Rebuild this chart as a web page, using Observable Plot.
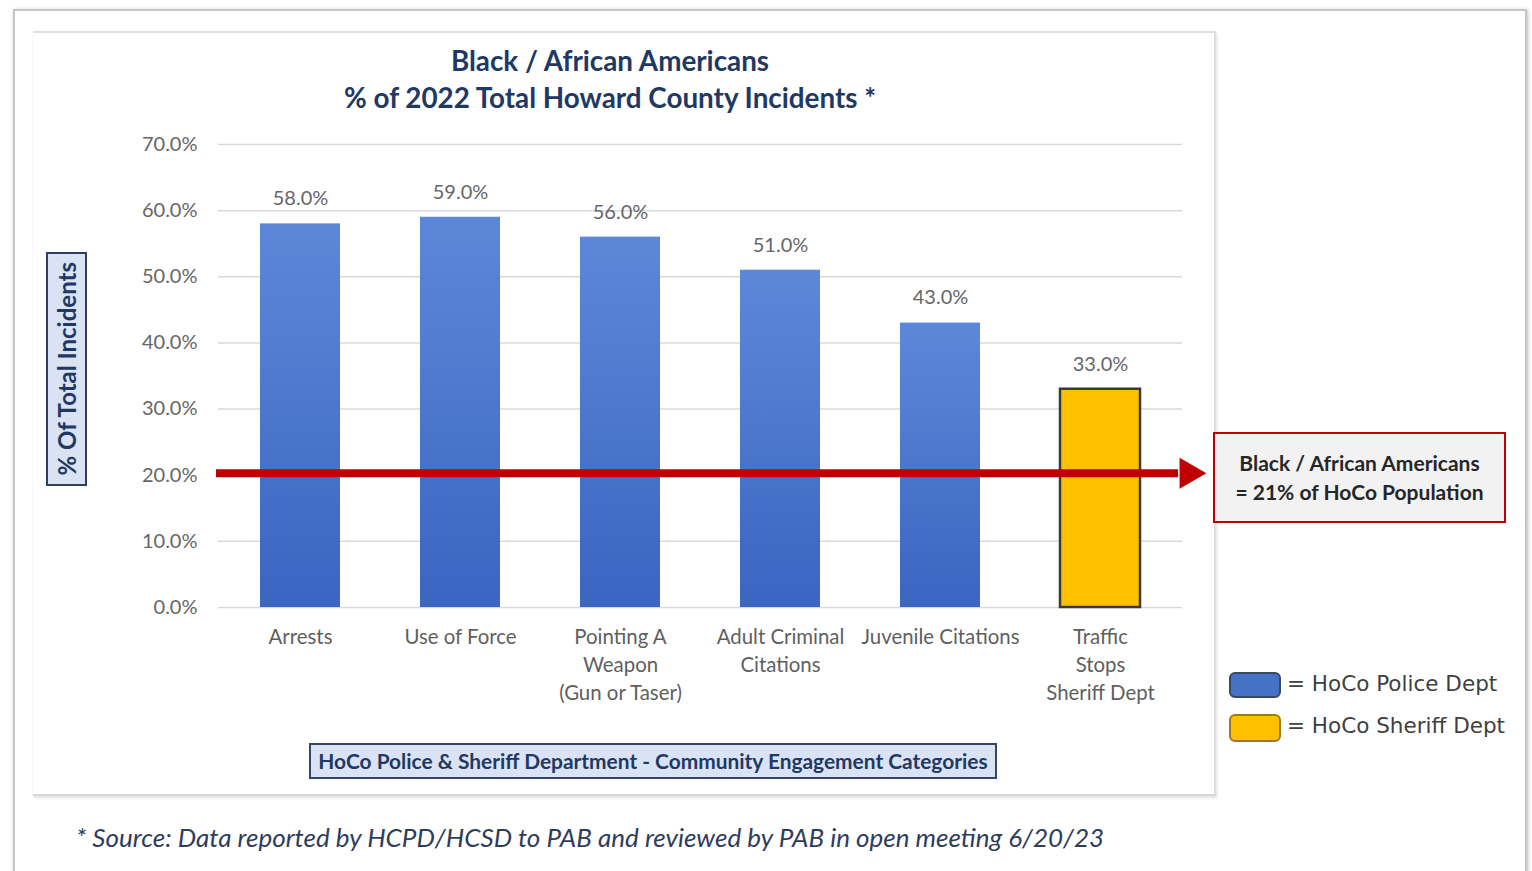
<!DOCTYPE html>
<html>
<head>
<meta charset="utf-8">
<script src="https://cdn.jsdelivr.net/npm/d3@7"></script>
<script src="https://cdn.jsdelivr.net/npm/@observablehq/plot@0.6"></script>
<style>
  html, body { margin: 0; padding: 0; background: #fff; }
  #page { position: relative; width: 1532px; height: 871px; overflow: hidden; font-family: Lato, "Open Sans", sans-serif; }
  .abs { position: absolute; box-sizing: border-box; }
  #outer { left: 13px; top: 9px; width: 1514px; height: 900px; border: 2px solid #c4c4c4; box-shadow: 1px 1px 4px rgba(0,0,0,0.25); }
  #inner { left: 33px; top: 31px; width: 1183px; height: 765px; border-top: 2px solid #dedede; border-right: 2px solid #dedede; border-bottom: 2px solid #d6d6d6; box-shadow: 1px 2px 3px rgba(0,0,0,0.12); }
  #title { left: 260px; top: 42px; width: 700px; text-align: center; font-weight: bold; font-size: 27.8px; line-height: 37px; color: #1f3864; }
  #ylab { left: 46px; top: 252px; width: 41px; height: 234px; border: 2px solid #2e3f62; background: #dae3f3; display: flex; align-items: center; justify-content: center; }
  #ylab span { writing-mode: vertical-rl; transform: rotate(180deg); font-weight: bold; font-size: 24px; color: #1f3864; white-space: nowrap; }
  #xlab { left: 309px; top: 743px; width: 688px; height: 36px; border: 2px solid #34466b; background: #dae3f3; text-align: center; font-weight: bold; font-size: 20.9px; line-height: 32px; color: #1f3864; white-space: nowrap; }
  #note { left: 1213px; top: 432px; width: 293px; height: 91px; border: 2px solid #c00000; background: #f2f2f2; text-align: center; font-weight: bold; font-size: 21px; line-height: 29px; color: #262626; padding-top: 14px; white-space: nowrap; }
  .sw { width: 52px; border-radius: 6px; }
  .lt { font-family: "DejaVu Sans", sans-serif; font-size: 21.5px; color: #404040; white-space: nowrap; }
  #source { left: 76px; top: 821px; font-style: italic; font-size: 26px; color: #2f3d5c; white-space: nowrap; }
  #plot { left: 0; top: 0; }
</style>
</head>
<body>
<div id="page">
  <div id="outer" class="abs"></div>
  <div id="inner" class="abs"></div>
  <div id="plot" class="abs"></div>
  <div id="title" class="abs">Black / African Americans<br>% of 2022 Total Howard County Incidents *</div>
  <div id="ylab" class="abs"><span>% Of Total Incidents</span></div>
  <div id="xlab" class="abs">HoCo Police &amp; Sheriff Department - Community Engagement Categories</div>
  <div id="note" class="abs">Black / African Americans<br>= 21% of HoCo Population</div>
  <div class="abs sw" style="left:1229px;top:672px;height:26px;background:#4472c4;border:2px solid #3a4868;"></div>
  <div class="abs lt" style="left:1287px;top:671px;">= HoCo Police Dept</div>
  <div class="abs sw" style="left:1229px;top:714px;height:28px;background:#ffc000;border:2px solid #9c7a22;"></div>
  <div class="abs lt" style="left:1287px;top:713px;">= HoCo Sheriff Dept</div>
  <div id="source" class="abs">* Source: Data reported by HCPD/HCSD to PAB and reviewed by PAB in open meeting 6/20/23</div>
</div>
<script>
const categories = ["Arrests", "Use of Force", "Pointing A\nWeapon\n(Gun or Taser)", "Adult Criminal\nCitations", "Juvenile Citations", "Traffic\nStops\nSheriff Dept"];
const values = [58.0, 59.0, 56.0, 51.0, 43.0, 33.0];
const departments = ["Police", "Police", "Police", "Police", "Police", "Sheriff"];
const yTicks = [0, 10, 20, 30, 40, 50, 60, 70];
const populationShare = 21;
const arrowLevel = 20.3;

const rows = categories.map((c, i) => ({category: c, value: values[i], dept: departments[i]}));
const police = rows.filter(d => d.dept === "Police");
const sheriff = rows.filter(d => d.dept === "Sheriff");

const chart = Plot.plot({
  width: 1532,
  height: 720,
  marginTop: 144,
  marginBottom: 113,
  marginLeft: 218,
  marginRight: 350,
  style: {fontFamily: "Lato, 'Open Sans', sans-serif", background: "transparent", overflow: "visible"},
  x: {domain: categories, paddingInner: 0.5, paddingOuter: 0.25, label: null},
  y: {domain: [0, 70], label: null},
  marks: [
    Plot.ruleY(yTicks, {stroke: "#d9d9d9", strokeWidth: 1.5}),
    Plot.axisY({ticks: yTicks, tickSize: 0, tickPadding: 21, fontSize: 20, fill: "#666", tickFormat: d => d.toFixed(1) + "%", label: null}),
    Plot.axisX({tickSize: 0, tickPadding: 17, fontSize: 20.4, lineHeight: 1.36, fill: "#5f5f5f", label: null}),
    Plot.barY(police, {x: "category", y: "value", fill: "url(#blueGrad)"}),
    Plot.barY(sheriff, {x: "category", y: "value", fill: "#ffc000", stroke: "#3a3a3a", strokeWidth: 2.5}),
    Plot.text(rows, {x: "category", y: "value", text: d => d.value.toFixed(1) + "%", dy: -25, fontSize: 20, fill: "#666"}),
    Plot.ruleY([arrowLevel], {stroke: "#c00000", strokeWidth: 8, insetLeft: -2, insetRight: 4}),
    Plot.dot([arrowLevel], {y: d => d, frameAnchor: "right", dx: 6, symbol: "triangle", rotate: 90, r: 11.5, fill: "#c00000", stroke: "none"})
  ]
});

const defs = d3.select(chart).insert("defs", ":first-child");
const g = defs.append("linearGradient").attr("id", "blueGrad").attr("x1", 0).attr("y1", 0).attr("x2", 0).attr("y2", 1);
g.append("stop").attr("offset", "0%").attr("stop-color", "#5d88d8");
g.append("stop").attr("offset", "100%").attr("stop-color", "#3a65c1");

document.getElementById("plot").appendChild(chart);
</script>
</body>
</html>
